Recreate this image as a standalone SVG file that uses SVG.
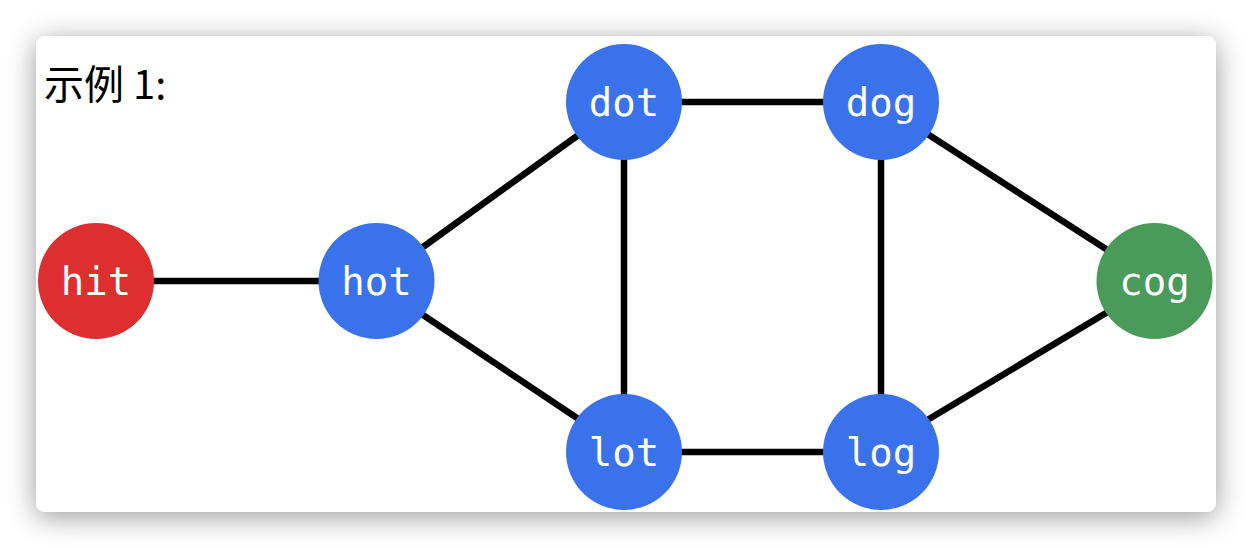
<svg xmlns="http://www.w3.org/2000/svg" width="1252" height="548" viewBox="0 0 1252 548">
<defs>
<filter id="sh" x="-10%" y="-20%" width="120%" height="140%">
<feDropShadow dx="0" dy="5" stdDeviation="14" flood-color="#000" flood-opacity="0.4"/>
</filter>
<style>
.edge{stroke:#000;stroke-width:6.5;stroke-linecap:round;fill:none}
.lbl{font-family:"DejaVu Sans Mono",monospace;font-size:39px;fill:#fff;text-anchor:middle}
.blue{fill:#3A72EC}
</style>
</defs>
<rect width="1252" height="548" fill="#fff"/>
<rect x="36" y="36" width="1180" height="476" rx="9" fill="#fff" filter="url(#sh)"/>
<text x="44" y="99" font-family="'Noto Sans CJK SC',sans-serif" font-size="40" fill="#000">示例 1:</text>
<g id="connectors">
<line class="edge" x1="154" y1="281" x2="319" y2="281"/>
<line class="edge" x1="423" y1="247" x2="577" y2="136"/>
<line class="edge" x1="423" y1="315" x2="577" y2="418"/>
<line class="edge" x1="624" y1="160" x2="624" y2="394"/>
<line class="edge" x1="682" y1="102" x2="823" y2="102"/>
<line class="edge" x1="682" y1="452" x2="823" y2="452"/>
<line class="edge" x1="881" y1="160" x2="881" y2="394"/>
<line class="edge" x1="929" y1="135" x2="1106" y2="249"/>
<line class="edge" x1="929" y1="419" x2="1106" y2="313"/>
</g>
<g id="hit"><circle cx="96" cy="281" r="58" fill="#DD2E30"/><text class="lbl" x="96" y="295">hit</text></g>
<g id="hot"><circle class="blue" cx="376.5" cy="281" r="58"/><text class="lbl" x="376.5" y="295">hot</text></g>
<g id="dot"><circle class="blue" cx="624" cy="102" r="58"/><text class="lbl" x="624" y="116">dot</text></g>
<g id="dog"><circle class="blue" cx="881" cy="102" r="58"/><text class="lbl" x="881" y="116">dog</text></g>
<g id="lot"><circle class="blue" cx="624" cy="452" r="58"/><text class="lbl" x="624" y="466">lot</text></g>
<g id="log"><circle class="blue" cx="881" cy="452" r="58"/><text class="lbl" x="881" y="466">log</text></g>
<g id="cog"><circle cx="1154.5" cy="281" r="58" fill="#4A9A5A"/><text class="lbl" x="1154.5" y="295">cog</text></g>
</svg>
